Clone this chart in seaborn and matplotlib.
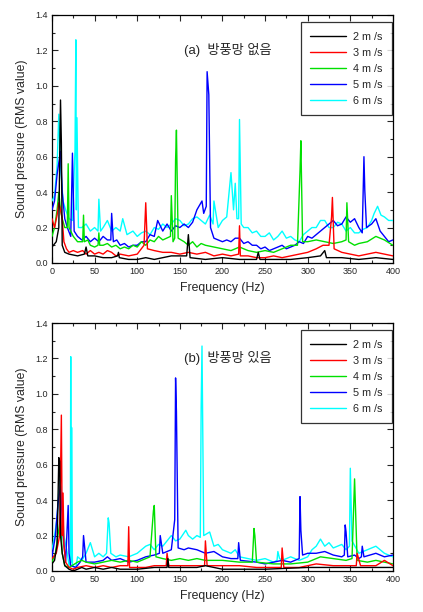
import matplotlib
matplotlib.use("Agg")
import matplotlib.pyplot as plt
import numpy as np
import pandas as pd
import seaborn as sns
from matplotlib.ticker import MultipleLocator

sns.set_style("ticks")
plt.rcParams['font.family'] = ['Liberation Sans', 'Noto Sans CJK KR', 'DejaVu Sans']

labels = ['2 m /s', '3 m /s', '4 m /s', '5 m /s', '6 m /s']
colors = ['black', '#ff0000', '#00e000', '#0000ff', '#00ffff']
titles = ['(a)  방풍망 없음', '(b)  방풍망 있음']

# ---- panel (a): without windbreak net ----
a2_f = [0, 5, 8, 10, 11, 12, 15, 20, 30, 38, 40, 42, 50, 60, 70, 77, 78, 79, 90, 100, 110, 120, 130, 140, 150, 158, 160, 162, 180, 200, 220, 240, 242, 244, 260, 280, 300, 315, 320, 322, 325, 340, 360, 380, 400]
a2_v = [0.09, 0.12, 0.2, 0.92, 0.68, 0.1, 0.06, 0.05, 0.04, 0.05, 0.09, 0.04, 0.04, 0.03, 0.03, 0.04, 0.06, 0.03, 0.02, 0.02, 0.03, 0.02, 0.03, 0.04, 0.04, 0.04, 0.16, 0.03, 0.02, 0.03, 0.02, 0.02, 0.06, 0.02, 0.02, 0.02, 0.03, 0.04, 0.07, 0.03, 0.03, 0.03, 0.02, 0.03, 0.02]
a3_f = [0, 3, 6, 8, 10, 12, 14, 17, 20, 25, 30, 36, 40, 45, 50, 55, 60, 65, 70, 75, 80, 90, 100, 108, 110, 112, 120, 130, 140, 150, 160, 170, 180, 190, 200, 210, 219, 220, 221, 230, 240, 250, 260, 270, 280, 290, 300, 310, 318, 325, 328, 329, 331, 340, 350, 360, 370, 380, 390, 400]
a3_v = [0.25, 0.2, 0.27, 0.34, 0.3, 0.25, 0.12, 0.08, 0.06, 0.07, 0.06, 0.07, 0.05, 0.07, 0.05, 0.06, 0.05, 0.07, 0.06, 0.04, 0.05, 0.04, 0.05, 0.1, 0.34, 0.08, 0.07, 0.06, 0.06, 0.05, 0.06, 0.05, 0.06, 0.04, 0.05, 0.04, 0.05, 0.21, 0.04, 0.04, 0.03, 0.03, 0.04, 0.03, 0.04, 0.05, 0.06, 0.08, 0.1, 0.1, 0.26, 0.37, 0.08, 0.06, 0.05, 0.04, 0.05, 0.06, 0.05, 0.04]
a4_f = [0, 3, 6, 8, 10, 12, 15, 18, 19, 20, 25, 30, 36, 37, 38, 42, 45, 50, 54, 55, 56, 60, 65, 70, 75, 80, 85, 90, 95, 100, 105, 110, 115, 120, 125, 130, 139, 140, 142, 144, 145, 146, 148, 155, 160, 165, 170, 175, 180, 190, 200, 210, 220, 230, 240, 250, 260, 270, 280, 288, 291, 292, 294, 300, 310, 320, 330, 340, 345, 346, 348, 355, 360, 370, 380, 390, 400]
a4_v = [0.15, 0.2, 0.3, 0.4, 0.3, 0.25, 0.2, 0.2, 0.56, 0.2, 0.15, 0.12, 0.12, 0.27, 0.12, 0.13, 0.1, 0.09, 0.1, 0.17, 0.1, 0.1, 0.11, 0.09, 0.1, 0.08, 0.09, 0.08, 0.1, 0.09, 0.12, 0.1, 0.13, 0.12, 0.15, 0.13, 0.15, 0.38, 0.12, 0.14, 0.58, 0.75, 0.14, 0.12, 0.1, 0.12, 0.09, 0.11, 0.1, 0.09, 0.08, 0.07, 0.09, 0.07, 0.06, 0.07, 0.06, 0.08, 0.1, 0.1, 0.52, 0.69, 0.12, 0.12, 0.13, 0.12, 0.11, 0.12, 0.13, 0.34, 0.12, 0.1, 0.11, 0.12, 0.15, 0.13, 0.1]
a5_f = [0, 3, 6, 9, 10, 12, 15, 18, 22, 24, 26, 30, 35, 40, 45, 50, 55, 60, 65, 69, 70, 72, 76, 80, 85, 90, 95, 100, 105, 110, 115, 120, 124, 130, 135, 140, 145, 150, 155, 160, 165, 170, 176, 178, 181, 182, 184, 186, 190, 195, 200, 205, 210, 215, 220, 225, 230, 235, 240, 245, 250, 255, 260, 265, 270, 275, 280, 285, 290, 295, 300, 305, 310, 315, 320, 325, 330, 335, 340, 345, 350, 355, 360, 364, 366, 367, 369, 375, 380, 385, 390, 395, 400]
a5_v = [0.3, 0.35, 0.5, 0.6, 0.63, 0.4, 0.25, 0.2, 0.15, 0.62, 0.18, 0.15, 0.13, 0.15, 0.12, 0.14, 0.12, 0.15, 0.13, 0.13, 0.28, 0.12, 0.13, 0.1, 0.11, 0.09, 0.1, 0.1, 0.12, 0.12, 0.16, 0.15, 0.24, 0.18, 0.22, 0.18, 0.21, 0.2, 0.22, 0.2, 0.23, 0.3, 0.35, 0.28, 0.32, 1.08, 0.95, 0.2, 0.14, 0.13, 0.12, 0.13, 0.12, 0.14, 0.14, 0.11, 0.12, 0.1, 0.1, 0.08, 0.09, 0.07, 0.08, 0.09, 0.1, 0.08, 0.09, 0.1, 0.12, 0.11, 0.15, 0.14, 0.16, 0.18, 0.2, 0.22, 0.24, 0.21, 0.22, 0.26, 0.23, 0.25, 0.2, 0.17, 0.6, 0.41, 0.2, 0.22, 0.25, 0.18, 0.15, 0.12, 0.13]
a6_f = [0, 3, 6, 8, 10, 13, 16, 20, 24, 27, 28, 28.6, 29.3, 31, 35, 40, 45, 50, 54, 55, 57, 60, 65, 70, 75, 80, 83, 88, 95, 100, 105, 110, 115, 120, 125, 130, 135, 140, 145, 150, 155, 160, 165, 170, 175, 180, 185, 189, 190, 195, 200, 205, 210, 213, 215, 217, 219, 220, 222, 225, 230, 235, 240, 245, 250, 255, 260, 265, 270, 275, 280, 285, 290, 295, 300, 305, 310, 315, 320, 325, 330, 335, 340, 345, 350, 355, 360, 365, 370, 375, 378, 382, 386, 390, 395, 400]
a6_v = [0.35, 0.38, 0.55, 0.84, 0.55, 0.35, 0.3, 0.25, 0.24, 0.64, 1.26, 0.3, 0.82, 0.2, 0.2, 0.22, 0.18, 0.2, 0.18, 0.36, 0.18, 0.2, 0.24, 0.18, 0.2, 0.18, 0.25, 0.16, 0.18, 0.15, 0.17, 0.18, 0.16, 0.2, 0.19, 0.22, 0.2, 0.22, 0.25, 0.24, 0.21, 0.22, 0.25, 0.26, 0.24, 0.22, 0.27, 0.22, 0.35, 0.2, 0.24, 0.26, 0.51, 0.3, 0.45, 0.25, 0.25, 0.81, 0.22, 0.2, 0.2, 0.17, 0.18, 0.15, 0.15, 0.17, 0.13, 0.15, 0.18, 0.14, 0.15, 0.13, 0.12, 0.16, 0.18, 0.2, 0.2, 0.24, 0.24, 0.2, 0.2, 0.23, 0.22, 0.18, 0.2, 0.17, 0.17, 0.19, 0.2, 0.24, 0.28, 0.32, 0.27, 0.26, 0.24, 0.24]

# ---- panel (b): with windbreak net ----
b2_f = [0, 3, 6, 8, 9, 10, 12, 15, 20, 25, 30, 35, 40, 50, 60, 70, 80, 100, 120, 135, 136, 137, 150, 170, 180, 200, 250, 300, 350, 400]
b2_v = [0.04, 0.06, 0.15, 0.64, 0.62, 0.2, 0.1, 0.03, 0.01, 0.0, 0.01, 0.02, 0.01, 0.02, 0.01, 0.02, 0.01, 0.01, 0.02, 0.02, 0.07, 0.02, 0.02, 0.02, 0.03, 0.01, 0.01, 0.02, 0.02, 0.02]
b3_f = [0, 5, 9, 11, 12, 13, 14, 16, 20, 25, 30, 40, 50, 60, 70, 80, 89, 90, 91, 100, 110, 120, 134, 135, 137, 150, 160, 170, 179, 180, 182, 200, 220, 240, 260, 269, 270, 272, 290, 310, 330, 350, 357, 358, 362, 380, 390, 400]
b3_v = [0.07, 0.1, 0.2, 0.88, 0.2, 0.44, 0.15, 0.05, 0.02, 0.01, 0.02, 0.03, 0.02, 0.03, 0.02, 0.03, 0.03, 0.25, 0.02, 0.02, 0.02, 0.03, 0.03, 0.1, 0.03, 0.03, 0.03, 0.03, 0.03, 0.17, 0.03, 0.03, 0.03, 0.02, 0.02, 0.02, 0.13, 0.02, 0.02, 0.04, 0.03, 0.03, 0.03, 0.1, 0.03, 0.03, 0.06, 0.03]
b4_f = [0, 4, 7, 10, 12, 15, 20, 30, 35, 40, 50, 60, 70, 80, 90, 100, 110, 115, 119, 120, 122, 130, 140, 150, 160, 170, 180, 200, 220, 235, 237, 238, 240, 260, 280, 300, 315, 330, 345, 352, 355, 356, 358, 370, 380, 400]
b4_v = [0.05, 0.1, 0.2, 0.3, 0.1, 0.03, 0.02, 0.05, 0.06, 0.05, 0.04, 0.05, 0.06, 0.05, 0.06, 0.05, 0.07, 0.08, 0.34, 0.37, 0.08, 0.07, 0.06, 0.07, 0.06, 0.07, 0.06, 0.06, 0.05, 0.05, 0.24, 0.2, 0.05, 0.04, 0.04, 0.05, 0.08, 0.07, 0.06, 0.07, 0.52, 0.37, 0.06, 0.05, 0.06, 0.04]
b5_f = [0, 4, 7, 10, 13, 16, 19, 20, 22, 28, 33, 36, 37, 40, 50, 60, 65, 70, 80, 90, 100, 110, 120, 126, 127, 130, 140, 144, 145, 146, 148, 155, 160, 170, 180, 190, 200, 210, 218, 219, 221, 240, 250, 260, 270, 280, 290, 291, 292, 294, 300, 310, 320, 330, 340, 343, 344, 345, 347, 355, 360, 363, 364, 366, 380, 390, 400]
b5_v = [0.08, 0.2, 0.38, 0.48, 0.2, 0.05, 0.37, 0.1, 0.03, 0.02, 0.05, 0.08, 0.2, 0.05, 0.05, 0.06, 0.08, 0.06, 0.07, 0.05, 0.06, 0.08, 0.09, 0.1, 0.2, 0.1, 0.12, 0.29, 1.09, 0.9, 0.13, 0.12, 0.13, 0.12, 0.1, 0.11, 0.08, 0.07, 0.07, 0.16, 0.06, 0.05, 0.04, 0.05, 0.06, 0.05, 0.07, 0.42, 0.23, 0.09, 0.1, 0.1, 0.11, 0.09, 0.08, 0.09, 0.26, 0.22, 0.08, 0.09, 0.07, 0.08, 0.14, 0.08, 0.1, 0.08, 0.09]
b6_f = [0, 3, 6, 9, 11, 14, 18, 20, 21.5, 22, 22.5, 23, 24, 28, 30, 35, 40, 45, 50, 55, 60, 64, 66, 67, 69, 75, 80, 90, 100, 110, 115, 120, 125, 130, 135, 140, 145, 150, 157, 160, 165, 170, 174, 175, 176, 178, 185, 190, 195, 200, 210, 215, 220, 230, 240, 250, 260, 264, 265, 267, 270, 280, 290, 300, 305, 310, 315, 320, 325, 330, 340, 345, 349, 350, 352, 360, 370, 380, 390, 400]
b6_v = [0.12, 0.2, 0.3, 0.52, 0.45, 0.2, 0.1, 0.03, 0.05, 1.21, 0.05, 0.81, 0.03, 0.02, 0.08, 0.06, 0.1, 0.16, 0.08, 0.1, 0.08, 0.1, 0.3, 0.27, 0.1, 0.08, 0.09, 0.08, 0.1, 0.14, 0.15, 0.12, 0.15, 0.14, 0.17, 0.2, 0.17, 0.18, 0.23, 0.2, 0.18, 0.2, 0.19, 0.92, 1.27, 0.2, 0.22, 0.14, 0.15, 0.12, 0.1, 0.12, 0.08, 0.07, 0.06, 0.07, 0.05, 0.06, 0.11, 0.07, 0.06, 0.08, 0.06, 0.08, 0.12, 0.14, 0.18, 0.14, 0.16, 0.13, 0.15, 0.12, 0.14, 0.58, 0.17, 0.1, 0.12, 0.14, 0.1, 0.08]

panels = [
    [(a2_f, a2_v), (a3_f, a3_v), (a4_f, a4_v), (a5_f, a5_v), (a6_f, a6_v)],
    [(b2_f, b2_v), (b3_f, b3_v), (b4_f, b4_v), (b5_f, b5_v), (b6_f, b6_v)],
]

fig = plt.figure(figsize=(4.23, 6.12), dpi=100)
axes = [fig.add_axes([0.1229, 0.5703, 0.806, 0.4052]),
        fig.add_axes([0.1229, 0.0670, 0.806, 0.4052])]

for ax, series, title in zip(axes, panels, titles):
    # draw 6 m/s first so lower speeds sit on top
    for i in range(4, -1, -1):
        f, v = series[i]
        df = pd.DataFrame({'freq': f, 'p': v})
        sns.lineplot(data=df, x='freq', y='p', ax=ax, color=colors[i], lw=1.0,
                     sort=False, estimator=None, label=labels[i], zorder=2 + (5 - i))
    ax.set_xlim(0, 400)
    ax.set_ylim(0, 1.4)
    ax.xaxis.set_major_locator(MultipleLocator(50))
    ax.xaxis.set_minor_locator(MultipleLocator(25))
    ax.yaxis.set_major_locator(MultipleLocator(0.2))
    ax.yaxis.set_minor_locator(MultipleLocator(0.1))
    ax.yaxis.set_major_formatter(matplotlib.ticker.FormatStrFormatter('%.1f'))
    ax.tick_params(which='both', direction='in', top=True, right=True, labelsize=6.5, pad=3)
    ax.tick_params(which='major', length=4, width=0.8)
    ax.tick_params(which='minor', length=2.5, width=0.8)
    for s in ax.spines.values():
        s.set_linewidth(0.9)
        s.set_color('black')
    ax.set_xlabel('Frequency (Hz)', fontsize=8.8, labelpad=4)
    ax.set_ylabel('Sound pressure (RMS value)', fontsize=8.8, labelpad=5)
    ax.text(155, 1.2, title, fontsize=9.5, ha='left', va='center')
    handles, hl = ax.get_legend_handles_labels()
    order = [hl.index(l) for l in labels]
    leg = ax.legend([handles[k] for k in order], labels, loc='upper right',
                    fontsize=7.8, frameon=True, fancybox=False, edgecolor='black',
                    handlelength=3.3, handletextpad=0.6, labelspacing=0.55,
                    borderpad=0.9, borderaxespad=0, bbox_to_anchor=(0.997, 0.972))
    leg.get_frame().set_linewidth(0.9)
    leg.set_zorder(20)

fig.savefig('out.png', dpi=100)
